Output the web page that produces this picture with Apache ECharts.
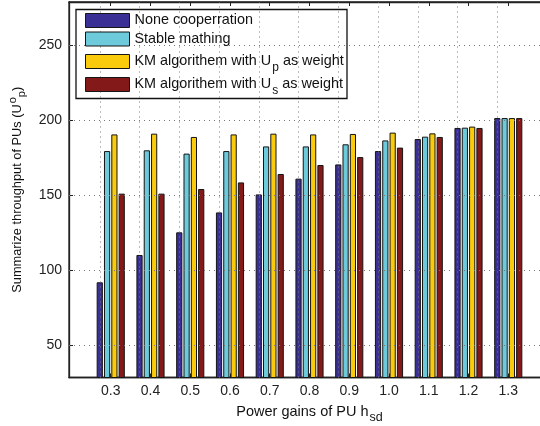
<!DOCTYPE html>
<html><head><meta charset="utf-8">
<script src="https://cdn.jsdelivr.net/npm/echarts@6/dist/echarts.min.js"></script>
<style>html,body{margin:0;padding:0;background:#fff}#c{width:540px;height:426px}</style>
</head><body><div id="c"></div>
<script>
const categories = [0.3, 0.4, 0.5, 0.6, 0.7, 0.8, 0.9, 1.0, 1.1, 1.2, 1.3];
const noneCoop = [91.8, 110, 125.1, 138.4, 150.4, 160.9, 170.4, 179.3, 187.3, 194.7, 201.3];
const stableMatching = [179.3, 179.8, 177.6, 179.3, 182.4, 182.4, 183.8, 186.4, 188.9, 194.9, 201.3];
const kmUp = [190.4, 190.9, 188.7, 190.4, 190.9, 190.4, 190.7, 191.6, 191.1, 195.6, 201.3];
const kmUs = [150.9, 150.9, 154, 158.4, 164, 170, 175.3, 181.6, 188.7, 194.7, 201.3];
const yTicks = [50, 100, 150, 200, 250];
const seriesNames = ['None cooperration', 'Stable mathing', 'KM algorithem with U_p as weight', 'KM algorithem with U_s as weight'];
const colors = ['#3a2f94', '#6ccadb', '#f9cb0c', '#84191a'];

const font = 'Liberation Sans, Arial, sans-serif';
function legendLabel(name) {
  const m = name.match(/^(.*U)_(\w)(.*)$/);
  if (!m) return '{a|' + name + '}';
  return '{a|' + m[1] + '}{sub|' + m[2] + '}{a|' + m[3] + '}';
}
const legendRich = {
  a: {fontSize: 14.4, fontFamily: font, color: '#111'},
  sub: {fontSize: 12, fontFamily: font, color: '#111', padding: [12, 0, 0, 1]}
};
const xRich = {
  a: {fontSize: 14.5, fontFamily: font, color: '#111'},
  sub: {fontSize: 12.5, fontFamily: font, color: '#111', padding: [12, 0, 0, 1]}
};
const yRich = {
  a: {fontSize: 12.8, fontFamily: font, color: '#111'},
  sub: {fontSize: 11, fontFamily: font, color: '#111', padding: [10, 0, 0, 0]},
  sup: {fontSize: 11, fontFamily: font, color: '#111', padding: [0, 0, 8, 1]}
};
const allSeries = [noneCoop, stableMatching, kmUp, kmUs];
const legendTops = [13, 31.5, 54, 77];

const chart = echarts.init(document.getElementById('c'));
const series = allSeries.map((vals, i) => ({
  name: seriesNames[i],
  type: 'bar',
  barWidth: 6.2,
  barGap: '18%',
  data: categories.map((c, j) => [c, vals[j]]),
  itemStyle: {color: colors[i], borderColor: '#151515', borderWidth: 1},
  z: 3
}));
series[0].markLine = {
  silent: true, symbol: 'none', label: {show: false}, animation: false,
  lineStyle: {color: '#777', type: [1, 4], width: 1},
  data: yTicks.map(v => ({yAxis: v})).concat(categories.map(c => ({xAxis: c})))
};
chart.setOption({
  animation: false,
  grid: {left: 69, top: 2, right: -10, bottom: 48.5, outerBoundsMode: 'none', containLabel: false, show: true, borderColor: '#222', borderWidth: 1.3, backgroundColor: 'transparent'},
  xAxis: [{
    type: 'value', min: 0.195, max: 1.405,
    axisLine: {lineStyle: {color: '#222', width: 1.3}},
    axisTick: {inside: true, length: 4, customValues: categories, lineStyle: {color: '#222'}},
    axisLabel: {customValues: categories, formatter: v => v.toFixed(1), fontSize: 14, fontFamily: font, color: '#222', margin: 7},
    splitLine: {show: false},
    name: '{a|Power gains of PU h}{sub|sd}',
    nameLocation: 'middle', nameGap: 22,
    nameTextStyle: {rich: xRich}
  }, {
    type: 'value', min: 0.195, max: 1.405, position: 'top',
    axisLine: {lineStyle: {color: '#222', width: 1.3}},
    axisTick: {inside: true, length: 4, customValues: categories, lineStyle: {color: '#222'}},
    axisLabel: {show: false},
    splitLine: {show: false}
  }],
  yAxis: {
    type: 'value', min: 28.3, max: 278.7,
    axisLine: {show: true, lineStyle: {color: '#222', width: 1.3}},
    axisTick: {show: true, inside: true, length: 4, customValues: yTicks, lineStyle: {color: '#222'}},
    axisLabel: {customValues: yTicks, fontSize: 14, fontFamily: font, color: '#222', margin: 7},
    splitLine: {show: false},
    name: '{a|Summarize throughput of PUs (U}{sup|o}{sub|p}{a|)}',
    nameLocation: 'middle', nameGap: 33, nameRotate: 90,
    nameTextStyle: {rich: yRich}
  },
  legend: seriesNames.map((n, i) => ({
    data: [n], left: 85, top: legendTops[i], itemWidth: 44, itemHeight: 14, itemGap: 0,
    icon: 'rect', selectedMode: false, z: 10,
    itemStyle: {borderColor: '#151515', borderWidth: 1},
    formatter: legendLabel, textStyle: {rich: legendRich}, padding: 0
  })),
  graphic: [{type: 'rect', shape: {x: 76, y: 9.5, width: 271, height: 89}, style: {fill: '#fff', stroke: '#111', lineWidth: 1.3}, z: 5}],
  series: series
});
</script></body></html>
